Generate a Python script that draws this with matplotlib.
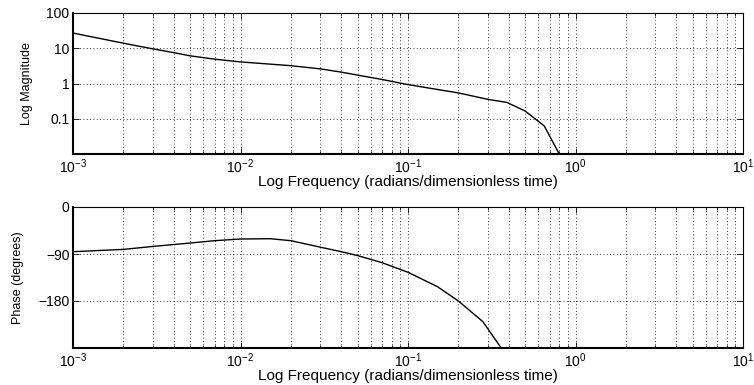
import matplotlib
matplotlib.use("Agg")
import matplotlib.pyplot as plt
from matplotlib import ticker

plt.rcParams['font.family'] = ['Liberation Sans', 'DejaVu Sans']
plt.rcParams['mathtext.fontset'] = 'custom'
plt.rcParams['mathtext.rm'] = 'Liberation Sans'
plt.rcParams['mathtext.it'] = 'Liberation Sans'

# Frequency response samples
mag_freq = [1e-3, 2e-3, 3e-3, 4e-3, 5e-3, 7e-3, 1e-2, 2e-2, 3e-2, 4e-2, 5e-2,
            7e-2, 0.1, 0.2, 0.3, 0.39, 0.5, 0.65, 0.8, 1.0]
mag_vals = [27, 13.9, 9.6, 7.5, 6.1, 4.9, 4.1, 3.2, 2.6, 2.1, 1.73,
            1.3, 0.93, 0.54, 0.355, 0.29, 0.166, 0.063, 0.01, 0.001]

phase_freq = [1e-3, 2e-3, 3e-3, 5e-3, 7e-3, 1e-2, 1.5e-2, 2e-2, 3e-2, 4e-2,
              5e-2, 7e-2, 0.1, 0.15, 0.2, 0.28, 0.36, 0.45]
phase_vals = [-85.6, -81.2, -75.5, -69, -64.5, -61.3, -60.7, -64.5, -77, -85.6,
              -93, -106.6, -125, -152.6, -180, -219.6, -270, -330]

mag_ticks = [0.1, 1, 10, 100]
phase_ticks = [-180, -90, 0]
xlabel_text = "Log Frequency (radians/dimensionless time)"

AX_W, AX_H = 670, 141
fig = plt.figure(figsize=(7.54, 3.85), dpi=100)
ax1 = fig.add_axes([73/754, 1-154/385, AX_W/754, AX_H/385])
ax2 = fig.add_axes([73/754, 1-348/385, AX_W/754, AX_H/385])

ylabel_font = dict(fontsize=9)


def style(ax):
    ax.set_xscale('log')
    ax.set_xlim(1e-3, 10)
    ax.xaxis.set_major_locator(ticker.LogLocator(base=10, numticks=10))
    ax.xaxis.set_minor_locator(ticker.LogLocator(base=10, subs=range(2, 10), numticks=10))
    ax.xaxis.set_minor_formatter(ticker.NullFormatter())
    ax.tick_params(which='both', direction='in', top=True, right=True,
                   labelsize=10, width=0.6)
    ax.tick_params(which='major', length=4)
    ax.tick_params(axis='x', which='major', pad=2.5)
    ax.tick_params(axis='y', which='major', pad=2.5)
    ax.tick_params(which='minor', length=2)
    ax.grid(True, which='major', axis='both', color='k', linestyle=(0, (1, 3)), linewidth=0.6)
    ax.grid(True, which='minor', axis='x', color='k', linestyle=(0, (1, 3)), linewidth=0.6)
    for side in ('left', 'bottom'):
        ax.spines[side].set_linewidth(1.5)
    for side in ('top', 'right'):
        ax.spines[side].set_linewidth(0.8)
    ax.set_xlabel(xlabel_text, fontsize=11)
    ax.xaxis.set_label_coords(0.5, -21/AX_H)


# Magnitude
ax1.plot(mag_freq, mag_vals, color='k', linewidth=1.0)
style(ax1)
ax1.set_yscale('log')
ax1.set_ylim(0.01, 100)
ax1.yaxis.set_major_locator(ticker.FixedLocator(mag_ticks))
ax1.yaxis.set_major_formatter(ticker.FuncFormatter(lambda v, p: f"{v:g}"))
ax1.yaxis.set_minor_locator(ticker.NullLocator())
ax1.set_ylabel("Log Magnitude", **ylabel_font)
ax1.yaxis.set_label_coords(-40/AX_W, 0.5)

# Phase
ax2.plot(phase_freq, phase_vals, color='k', linewidth=1.0)
style(ax2)
ax2.set_ylim(-270, 0)
ax2.set_yticks(phase_ticks)
ax2.set_yticklabels([f"\u2212{abs(t)}" if t < 0 else f"{t}" for t in phase_ticks])
ax2.set_ylabel("Phase (degrees)", **ylabel_font)
ax2.yaxis.set_label_coords(-49/AX_W, 0.5)

fig.savefig("out.png", dpi=100)
